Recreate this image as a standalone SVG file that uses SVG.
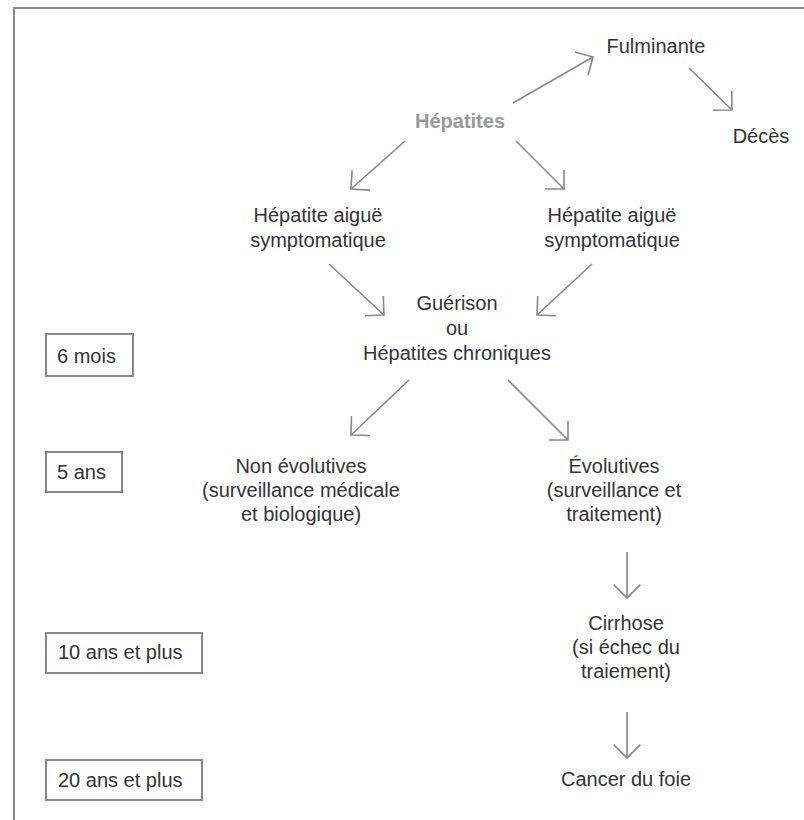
<svg xmlns="http://www.w3.org/2000/svg" width="804" height="820" viewBox="0 0 804 820">
  <style>
    .t { font-family: "Liberation Sans", Arial, Helvetica, sans-serif; font-size: 20px; fill: #333; }
    .c { text-anchor: middle; }
    .title { font-weight: bold; fill: #999; }
    .box { fill: #fff; stroke: #888; stroke-width: 2; }
    .link { fill: none; stroke: #888; stroke-width: 1.6; marker-end: url(#chev); }
  </style>
  <defs>
    <marker id="chev" markerUnits="userSpaceOnUse" viewBox="-16 -16 20 32" refX="0" refY="0" markerWidth="20" markerHeight="32" orient="auto" overflow="visible">
      <path d="M-13.4,-13.4 L0,0 L-13.4,13.4" fill="none" stroke="#888" stroke-width="1.6"/>
    </marker>
  </defs>

  <rect width="804" height="820" fill="#fff"/>
  <!-- outer frame, open to the right and bottom -->
  <rect x="14" y="8" width="820" height="840" fill="none" stroke="#8a8a8a" stroke-width="2"/>

  <!-- connectors -->
  <g id="connectors">
    <line class="link" x1="513" y1="103" x2="593" y2="57"/>
    <line class="link" x1="689" y1="68" x2="732" y2="110"/>
    <line class="link" x1="405" y1="141" x2="351" y2="189"/>
    <line class="link" x1="516" y1="141" x2="564" y2="189"/>
    <line class="link" x1="329" y1="264" x2="384" y2="315"/>
    <line class="link" x1="592" y1="264" x2="537" y2="315"/>
    <line class="link" x1="409" y1="380" x2="351" y2="435"/>
    <line class="link" x1="508" y1="380" x2="568" y2="440"/>
    <line class="link" x1="627" y1="552" x2="627" y2="598"/>
    <line class="link" x1="627" y1="712" x2="627" y2="758"/>
  </g>

  <!-- flow nodes -->
  <g id="hepatites">
    <text class="t c title" x="460" y="128">Hépatites</text>
  </g>
  <g id="fulminante">
    <text class="t c" x="656" y="53">Fulminante</text>
  </g>
  <g id="deces">
    <text class="t c" x="761" y="143">Décès</text>
  </g>
  <g id="aigue-gauche">
    <text class="t c" x="318" y="222">Hépatite aiguë</text>
    <text class="t c" x="318" y="247">symptomatique</text>
  </g>
  <g id="aigue-droite">
    <text class="t c" x="612" y="222">Hépatite aiguë</text>
    <text class="t c" x="612" y="247">symptomatique</text>
  </g>
  <g id="guerison">
    <text class="t c" x="457" y="310">Guérison</text>
    <text class="t c" x="457" y="335">ou</text>
    <text class="t c" x="457" y="360">Hépatites chroniques</text>
  </g>
  <g id="non-evolutives">
    <text class="t c" x="301" y="473">Non évolutives</text>
    <text class="t c" x="301" y="497">(surveillance médicale</text>
    <text class="t c" x="301" y="521">et biologique)</text>
  </g>
  <g id="evolutives">
    <text class="t c" x="614" y="473">Évolutives</text>
    <text class="t c" x="614" y="497">(surveillance et</text>
    <text class="t c" x="614" y="521">traitement)</text>
  </g>
  <g id="cirrhose">
    <text class="t c" x="626" y="630">Cirrhose</text>
    <text class="t c" x="626" y="654">(si échec du</text>
    <text class="t c" x="626" y="678">traiement)</text>
  </g>
  <g id="cancer">
    <text class="t c" x="626" y="786">Cancer du foie</text>
  </g>

  <!-- time scale -->
  <g id="t-6mois">
    <rect class="box" x="46" y="334" width="87" height="42"/>
    <text class="t" x="57" y="363">6 mois</text>
  </g>
  <g id="t-5ans">
    <rect class="box" x="46" y="452" width="76" height="40"/>
    <text class="t" x="57" y="479">5 ans</text>
  </g>
  <g id="t-10ans">
    <rect class="box" x="46" y="633" width="156" height="40"/>
    <text class="t" x="58" y="659">10 ans et plus</text>
  </g>
  <g id="t-20ans">
    <rect class="box" x="46" y="760" width="156" height="40"/>
    <text class="t" x="58" y="787">20 ans et plus</text>
  </g>
</svg>
